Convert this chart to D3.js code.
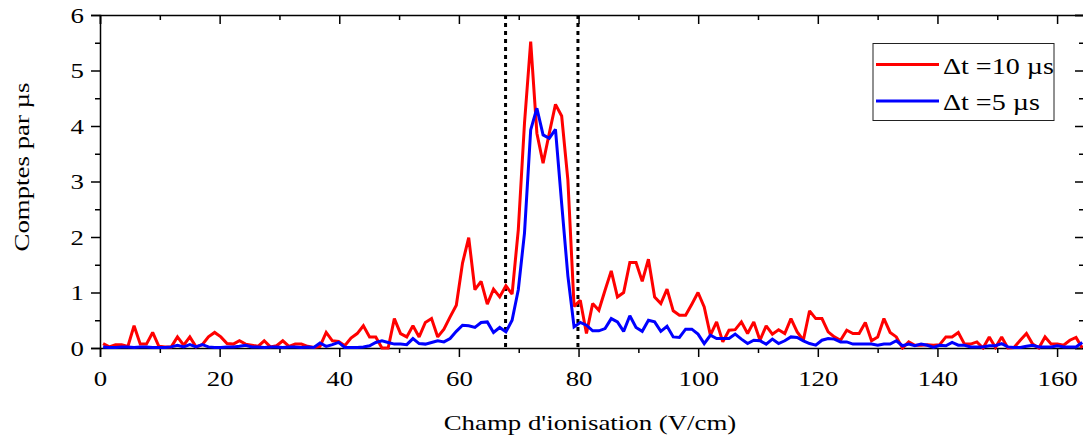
<!DOCTYPE html>
<html><head><meta charset="utf-8">
<script src="https://cdn.jsdelivr.net/npm/d3@7"></script>
<style>
body{margin:0;background:#fff;}
svg{display:block;}
svg text{font-family:"Liberation Serif","Times New Roman","DejaVu Serif",serif;}
</style></head>
<body><svg id="chart" width="1083" height="438"></svg>
<script>
// ---- data ----
const fieldStart = 0.516;   // V/cm of first sample
const fieldStep = 1.036;    // V/cm between samples
const countsDt10 = [0.08,0.02,0.06,0.06,0.03,0.40,0.07,0.07,0.28,0.03,
0.02,0.02,0.20,0.05,0.20,0.02,0.06,0.20,0.28,0.20,
0.08,0.07,0.13,0.07,0.05,0.03,0.13,0.02,0.04,0.13,
0.03,0.07,0.07,0.03,0.01,0.03,0.28,0.13,0.12,0.04,
0.18,0.26,0.40,0.20,0.20,0.00,0.00,0.53,0.26,0.20,
0.40,0.20,0.46,0.53,0.20,0.34,0.56,0.77,1.53,1.99,
1.05,1.20,0.79,1.06,0.92,1.12,0.97,2.13,4.05,5.52,
3.87,3.33,3.87,4.39,4.18,3.03,0.75,0.86,0.26,0.80,
0.68,1.04,1.39,0.92,1.00,1.54,1.54,1.20,1.60,0.92,
0.80,1.06,0.67,0.59,0.59,0.79,1.00,0.74,0.23,0.47,
0.11,0.32,0.33,0.47,0.26,0.47,0.14,0.40,0.25,0.33,
0.26,0.53,0.29,0.14,0.67,0.53,0.53,0.29,0.20,0.14,
0.32,0.26,0.26,0.46,0.13,0.20,0.53,0.28,0.20,0.00,
0.11,0.05,0.05,0.06,0.05,0.06,0.20,0.20,0.28,0.07,
0.07,0.11,0.00,0.20,0.01,0.20,0.00,0.01,0.14,0.26,
0.07,0.00,0.20,0.07,0.07,0.05,0.14,0.19,0.00];
const countsDt5 = [0.02,0.01,0.01,0.02,0.02,0.01,0.02,0.02,0.01,0.01,
0.01,0.02,0.05,0.02,0.06,0.02,0.06,0.02,0.01,0.01,
0.02,0.02,0.03,0.05,0.02,0.02,0.01,0.02,0.02,0.01,
0.02,0.02,0.01,0.02,0.01,0.09,0.03,0.06,0.10,0.01,
0.01,0.01,0.02,0.04,0.10,0.13,0.10,0.07,0.07,0.06,
0.17,0.08,0.07,0.10,0.13,0.11,0.17,0.30,0.41,0.40,
0.37,0.46,0.47,0.28,0.37,0.29,0.50,1.05,2.07,3.93,
4.32,3.84,3.78,3.94,2.60,1.30,0.38,0.46,0.41,0.31,
0.31,0.35,0.53,0.47,0.30,0.58,0.37,0.30,0.50,0.47,
0.30,0.39,0.20,0.19,0.34,0.34,0.25,0.08,0.23,0.17,
0.17,0.17,0.25,0.16,0.08,0.14,0.13,0.07,0.16,0.08,
0.13,0.20,0.19,0.13,0.08,0.05,0.14,0.17,0.16,0.11,
0.11,0.07,0.07,0.07,0.07,0.05,0.07,0.07,0.13,0.04,
0.07,0.04,0.07,0.05,0.01,0.05,0.04,0.10,0.05,0.05,
0.02,0.02,0.02,0.04,0.04,0.08,0.02,0.01,0.01,0.03,
0.05,0.02,0.02,0.02,0.04,0.02,0.02,0.02,0.10];
const seriesNames = ["\u0394t =10 \u00b5s", "\u0394t =5 \u00b5s"];
const seriesColors = ["#ff0000", "#0000ff"];
const xTicks = [0,20,40,60,80,100,120,140,160];
const xMinorTicks = [10,30,50,70,90,110,130,150];
const yTicks = [0,1,2,3,4,5,6];
const yMinorTicks = [0.5,1.5,2.5,3.5,4.5,5.5];
const markerFields = [67.8, 79.9];
const xTitle = "Champ d'ionisation (V/cm)";
const yTitle = "Comptes par \u00b5s";

// ---- layout ----
const FONT = "Liberation Serif, Times New Roman, DejaVu Serif, serif";
const STRETCH = 1.22;
const L = 100, R = 1084, T = 15, B = 348;
const svg = d3.select("#chart");
const x = d3.scaleLinear().domain([0, 164.5]).range([L, R]);
const y = d3.scaleLinear().domain([0, 6]).range([B, T]);

function stretch(sel){
  sel.each(function(){
    const len = this.getComputedTextLength();
    if (len > 0) d3.select(this).attr("textLength", len*STRETCH).attr("lengthAdjust","spacingAndGlyphs");
  });
}

svg.append("defs").append("clipPath").attr("id","clip")
  .append("rect").attr("x",L).attr("y",T-2).attr("width",R-L).attr("height",B-T+4);

function styleAxis(g){
  g.attr("font-family", FONT);
  g.selectAll("path.domain").attr("stroke","#000").attr("stroke-width",1.5);
  g.selectAll(".tick line").attr("stroke","#000").attr("stroke-width",1.5);
  g.selectAll(".tick text").attr("fill","#000").attr("font-size",22).attr("font-family",FONT);
}
// bottom
svg.append("g").attr("transform",`translate(0,${B})`)
  .call(d3.axisBottom(x).tickValues(xTicks).tickSize(9).tickPadding(13).tickFormat(d3.format("d")))
  .call(styleAxis).call(g=>stretch(g.selectAll(".tick text")));
svg.append("g").attr("transform",`translate(0,${B})`)
  .call(d3.axisBottom(x).tickValues(xMinorTicks).tickSize(5).tickFormat(""))
  .call(styleAxis).call(g=>g.select("path.domain").remove());
// top
svg.append("g").attr("transform",`translate(0,${T})`)
  .call(d3.axisBottom(x).tickValues(xTicks).tickSize(9).tickFormat(""))
  .call(styleAxis);
svg.append("g").attr("transform",`translate(0,${T})`)
  .call(d3.axisBottom(x).tickValues(xMinorTicks).tickSize(5).tickFormat(""))
  .call(styleAxis).call(g=>g.select("path.domain").remove());
// left
svg.append("g").attr("transform",`translate(${L},0)`)
  .call(d3.axisLeft(y).tickValues(yTicks).tickSize(9).tickPadding(7).tickFormat(d3.format("d")))
  .call(styleAxis).call(g=>stretch(g.selectAll(".tick text")));
svg.append("g").attr("transform",`translate(${L},0)`)
  .call(d3.axisLeft(y).tickValues(yMinorTicks).tickSize(5).tickFormat(""))
  .call(styleAxis).call(g=>g.select("path.domain").remove());
// right
svg.append("g").attr("transform",`translate(${R},0)`)
  .call(d3.axisRight(y).tickValues(yTicks).tickSize(-9).tickFormat(""))
  .call(styleAxis);
svg.append("g").attr("transform",`translate(${R},0)`)
  .call(d3.axisRight(y).tickValues(yMinorTicks).tickSize(-5).tickFormat(""))
  .call(styleAxis).call(g=>g.select("path.domain").remove());

// dotted markers
svg.append("g").selectAll("line").data(markerFields).join("line")
  .attr("x1",d=>x(d)).attr("x2",d=>x(d)).attr("y1",T).attr("y2",B)
  .attr("stroke","#000").attr("stroke-width",3).attr("stroke-dasharray","4,4");

// lines
const line = d3.line().x((d,i)=>x(fieldStart + i*fieldStep)).y(d=>y(d));
const plot = svg.append("g").attr("clip-path","url(#clip)");
[countsDt10, countsDt5].forEach((s,k)=>{
  plot.append("path").datum(s).attr("d",line)
    .attr("fill","none").attr("stroke",seriesColors[k]).attr("stroke-width",3)
    .attr("stroke-linejoin","miter").attr("stroke-miterlimit",2);
});

// legend
const lg = svg.append("g");
lg.append("rect").attr("x",873).attr("y",43.5).attr("width",181).attr("height",77)
  .attr("fill","#fff").attr("stroke","#222").attr("stroke-width",1);
seriesNames.forEach((n,k)=>{
  const ly = 64.5 + k*36.5;
  lg.append("line").attr("x1",876).attr("x2",939).attr("y1",ly).attr("y2",ly)
    .attr("stroke",seriesColors[k]).attr("stroke-width",3);
  lg.append("text").attr("x",943).attr("y",ly+9).attr("font-size",23)
    .attr("font-family",FONT).attr("fill","#000").text(n).call(stretch);
});

// titles
svg.append("text").attr("x",(L+R)/2 - 2).attr("y",430).attr("text-anchor","middle")
  .attr("font-family",FONT).attr("font-size",22).text(xTitle).call(stretch);
svg.append("text").attr("transform",`translate(29,167) rotate(-90)`).attr("text-anchor","middle")
  .attr("font-family",FONT).attr("font-size",22).text(yTitle).call(stretch);
</script></body></html>
